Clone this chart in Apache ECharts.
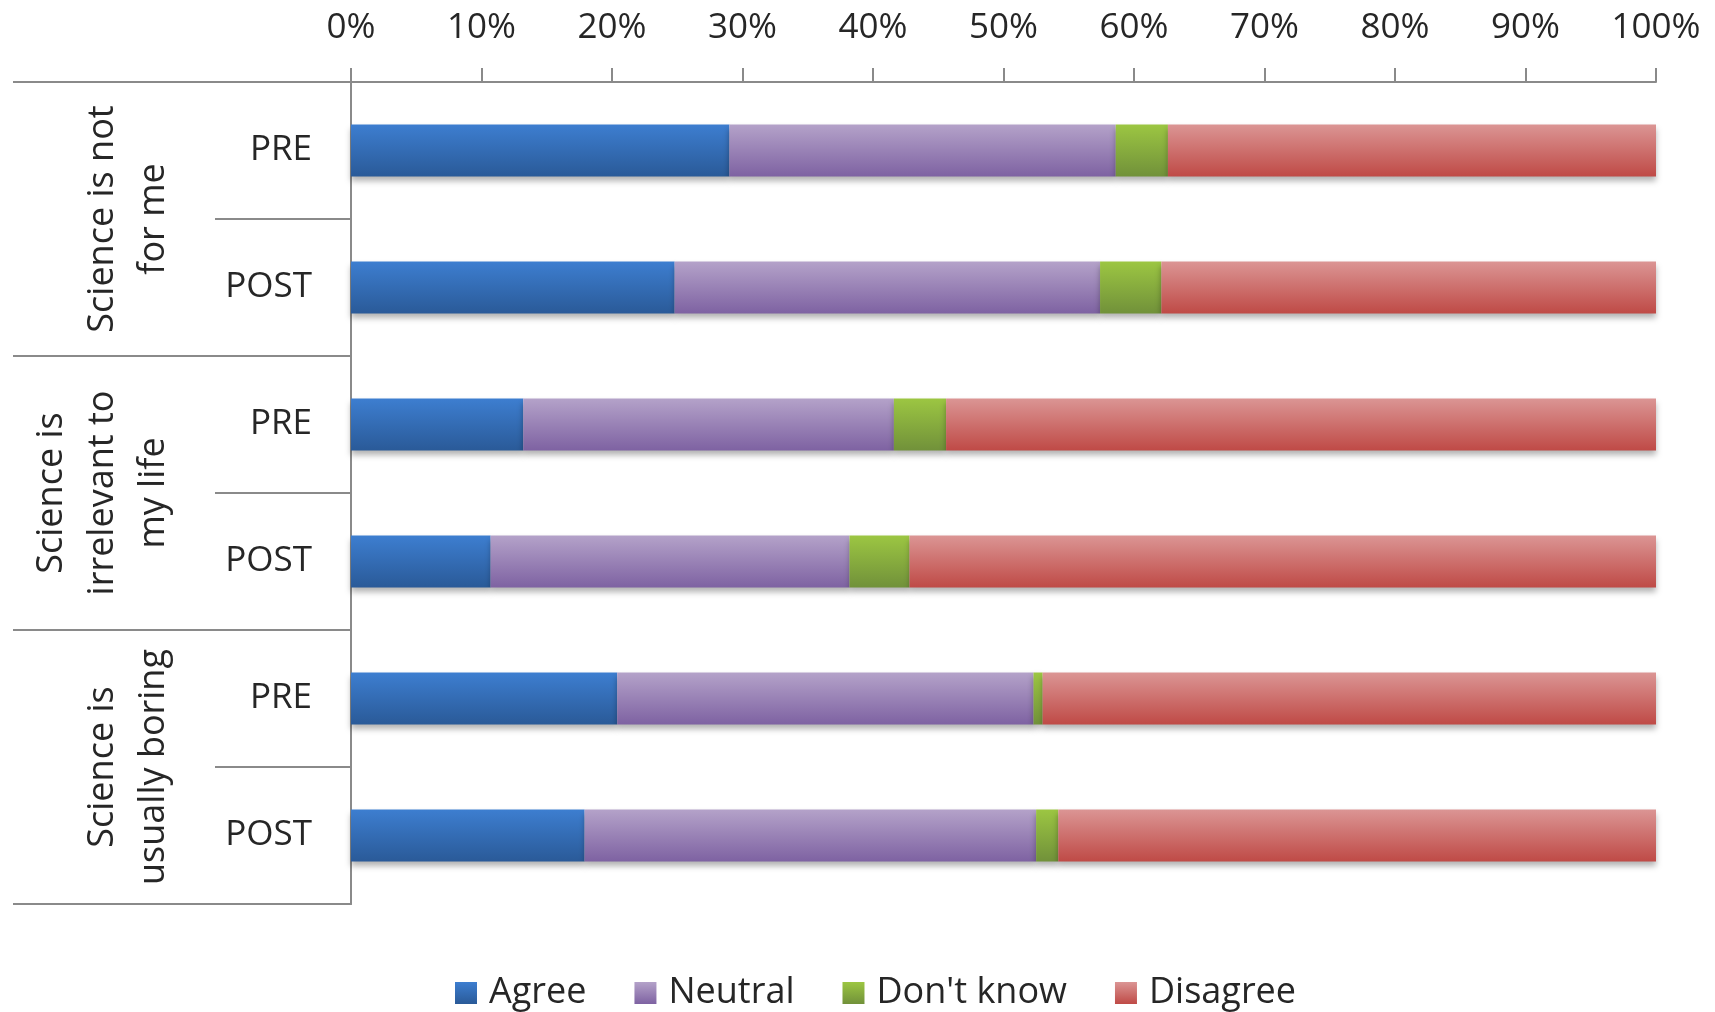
<!DOCTYPE html>
<html>
<head>
<meta charset="utf-8">
<script src="https://cdn.jsdelivr.net/npm/echarts@6/dist/echarts.min.js"></script>
<style>
html,body{margin:0;padding:0;background:#fff;}
#chart{width:1715px;height:1012px;}
</style>
</head>
<body>
<div id="chart"></div>
<script>
const categories = ['PRE', 'POST', 'PRE', 'POST', 'PRE', 'POST'];
const groups = ['Science is not\nfor me', 'Science is\nirrelevant to\nmy life', 'Science is\nusually boring'];
const seriesNames = ['Agree', 'Neutral', "Don't know", 'Disagree'];
const agree = [29.0, 24.8, 13.2, 10.7, 20.4, 17.9];
const neutral = [29.6, 32.6, 28.4, 27.5, 31.9, 34.6];
const dontKnow = [4.0, 4.7, 4.0, 4.6, 0.7, 1.7];
const disagree = [37.4, 37.9, 54.4, 57.2, 47.0, 45.8];
const xTicks = [0, 10, 20, 30, 40, 50, 60, 70, 80, 90, 100];

const values = [agree, neutral, dontKnow, disagree];
const gradients = [
  ['#3d7ed0', '#2a5a98'],
  ['#b4a2c9', '#7e62a2'],
  ['#9cc642', '#71913a'],
  ['#db9594', '#bf4a46']
];
const FONT = 'Open Sans';
const grey = '#8a8a8a';

const chart = echarts.init(document.getElementById('chart'));
chart.setOption({
  animation: false,
  backgroundColor: '#ffffff',
  textStyle: { fontFamily: FONT },
  grid: { left: 351, right: 59, top: 82, bottom: 108, containLabel: false },
  xAxis: {
    type: 'value',
    position: 'top',
    min: xTicks[0],
    max: xTicks[xTicks.length - 1],
    interval: xTicks[1] - xTicks[0],
    axisLine: { show: true, lineStyle: { color: grey, width: 2 } },
    axisTick: { show: true, inside: false, length: 14, lineStyle: { color: grey, width: 2 } },
    splitLine: { show: false },
    axisLabel: { formatter: '{value}%', fontSize: 35, color: '#262626', margin: 36, fontFamily: FONT }
  },
  yAxis: [
    {
      type: 'category',
      data: categories,
      inverse: true,
      position: 'left',
      axisLine: { show: true, lineStyle: { color: grey, width: 2 } },
      axisTick: { show: true, interval: 0, length: 136, lineStyle: { color: grey, width: 2 } },
      axisLabel: { interval: 0, fontSize: 35, color: '#262626', margin: 39, padding: [6, 0, 0, 0], fontFamily: FONT }
    },
    {
      type: 'category',
      data: groups,
      inverse: true,
      position: 'left',
      offset: 0,
      axisLine: { show: true, lineStyle: { color: grey, width: 2 } },
      axisTick: { show: true, interval: 0, length: 338, lineStyle: { color: grey, width: 2 } },
      axisLabel: {
        interval: 0, hideOverlap: false,
        fontSize: 36, color: '#262626', rotate: 90, margin: 172,
        lineHeight: 51, align: 'center', verticalAlign: 'bottom', fontFamily: FONT
      }
    }
  ],
  legend: {
    left: 450,
    top: 970,
    itemWidth: 22,
    itemHeight: 22,
    itemGap: 48,
    icon: 'rect',
    textStyle: { fontSize: 36, color: '#262626', fontFamily: FONT, padding: [0, 0, 0, 7] },
    data: seriesNames
  },
  series: seriesNames.map((name, i) => ({
    name: name,
    type: 'bar',
    stack: 'total',
    yAxisIndex: 0,
    barWidth: 52,
    data: values[i],
    itemStyle: {
      color: new echarts.graphic.LinearGradient(0, 0, 0, 1, [
        { offset: 0, color: gradients[i][0] },
        { offset: 1, color: gradients[i][1] }
      ]),
      shadowColor: 'rgba(0,0,0,0.30)',
      shadowBlur: 6,
      shadowOffsetY: 4
    }
  }))
});
</script>
</body>
</html>
